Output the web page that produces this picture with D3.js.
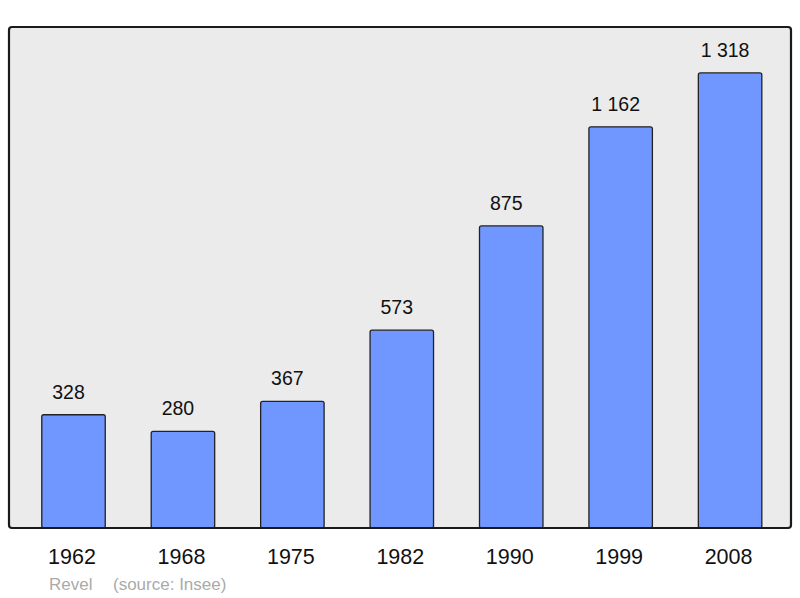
<!DOCTYPE html>
<html><head><meta charset="utf-8">
<script src="https://cdn.jsdelivr.net/npm/d3@7"></script>
<style>body{margin:0;background:#fff}svg{display:block}</style>
</head><body><svg id="c" width="800" height="598"></svg>
<script>
const years = ["1962","1968","1975","1982","1990","1999","2008"];
const population = [328,280,367,573,875,1162,1318];
const labels = ["328","280","367","573","875","1 162","1 318"];
const commune = "Revel";
const source = "(source: Insee)";

const svg = d3.select("#c");
const font = "'Liberation Sans', Arial, sans-serif";
const frame = {x0: 9, y0: 27, x1: 791, y1: 528};

svg.append("rect").attr("x", frame.x0).attr("y", frame.y0)
  .attr("width", frame.x1 - frame.x0).attr("height", frame.y1 - frame.y0)
  .attr("rx", 3).attr("fill", "#ebebeb");

const x = d3.scaleBand().domain(years).range([18.8, 784.8]).paddingInner(0.42).paddingOuter(0.21);
const y = d3.scaleLinear().domain([0, 1451]).range([frame.y1, frame.y0]);

svg.selectAll("rect.bar").data(population).join("rect").attr("class","bar")
  .attr("x", (d,i) => x(years[i])).attr("y", d => y(d))
  .attr("width", x.bandwidth()).attr("height", d => y(0) - y(d))
  .attr("rx", 2).attr("fill", "#7096ff").attr("stroke", "#222").attr("stroke-width", 1.3);

svg.selectAll("text.val").data(population).join("text").attr("class","val")
  .attr("x", (d,i) => x(years[i]) + x.bandwidth()/2 - 5).attr("y", d => y(d) - 16)
  .attr("text-anchor","middle").attr("font-family", font).attr("font-size", 19.5)
  .attr("fill","#111").text((d,i) => labels[i]);

svg.append("rect").attr("x", frame.x0).attr("y", frame.y0)
  .attr("width", frame.x1 - frame.x0).attr("height", frame.y1 - frame.y0)
  .attr("rx", 3).attr("fill", "none").attr("stroke", "#1a1a1a").attr("stroke-width", 2.2);

const xAxis = d3.axisBottom(x).tickSize(0).tickPadding(0);
const g = svg.append("g").attr("transform", `translate(-1.5,${frame.y1})`).call(xAxis);
g.select(".domain").remove();
g.selectAll("text").attr("font-family", font).attr("font-size", 21.5).attr("fill","#111")
  .attr("dy", null).attr("y", 36);

svg.append("text").attr("x", 49).attr("y", 590).attr("font-family", font).attr("font-size", 17)
  .attr("fill","#aaa").text(commune);
svg.append("text").attr("x", 113).attr("y", 590).attr("font-family", font).attr("font-size", 17)
  .attr("fill","#aaa").text(source);
</script></body></html>
